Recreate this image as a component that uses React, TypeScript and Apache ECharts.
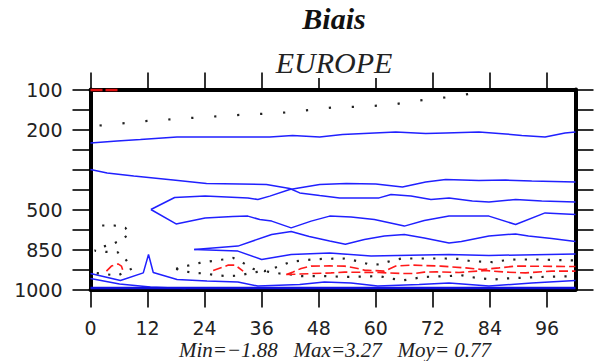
import React, { useEffect, useRef } from 'react';
import * as echarts from 'echarts';

// Pressure levels (y axis, evenly spaced by index, top = 100 hPa)
const LEVELS = [100, 150, 200, 250, 300, 400, 500, 700, 850, 925, 1000];
const LABELED_LEVEL_INDEX = [0, 2, 6, 8, 10];
// Forecast hours (x axis)
const HOURS = [0, 12, 24, 36, 48, 60, 72, 84, 96];
const HOUR_MAX = 102;

const TITLE = 'Biais';
const SUBTITLE = 'EUROPE';
const STATS = 'Min=\u22121.88   Max=3.27   Moy= 0.77';

// Contour lines: [forecast hour, level index]
const blueUpper: [number, number][] = [
  [0, 2.67], [5.6, 2.58], [10.5, 2.5], [18.2, 2.37], [31.4, 2.37], [37.7, 2.37], [42.5, 2.3],
  [48.2, 2.37], [53.0, 2.25], [64.2, 2.12], [70.5, 2.2], [74.7, 2.17], [81.7, 2.13], [87.3, 2.22],
  [90.7, 2.3], [95.6, 2.37], [99.8, 2.17], [102, 2.12],
];
const blueMid: [number, number][] = [
  [0, 4.0], [3.5, 4.17], [9.1, 4.33], [17.4, 4.53], [24.4, 4.7], [31.4, 4.72], [37.0, 4.75],
  [41.9, 4.95], [44.0, 5.17], [48.2, 5.3], [52.4, 5.42], [57.6, 5.42], [60.7, 5.42], [63.2, 5.25],
  [67.4, 5.33], [71.6, 5.5], [75.4, 5.42], [80.3, 5.58], [83.8, 5.62], [89.4, 5.5], [94.9, 5.58],
  [102, 5.62],
];
const blueLoopUpper: [number, number][] = [
  [12.7, 6.0], [17.7, 5.4], [24.1, 5.33], [33.1, 5.42], [35.2, 5.5], [37.7, 5.33], [41.9, 5.0],
  [48.2, 4.75], [53.8, 4.7], [60.0, 4.72], [65.6, 4.87], [70.5, 4.63], [74.7, 4.5], [81.7, 4.55],
  [87.3, 4.53], [92.8, 4.58], [102, 4.63],
];
const blueLoopLower: [number, number][] = [
  [12.7, 6.0], [18.0, 6.72], [24.1, 6.42], [29.9, 6.35], [33.1, 6.33], [35.6, 6.5], [38.1, 6.58],
  [42.2, 6.92], [46.4, 6.58], [50.3, 6.33], [54.8, 6.38], [59.7, 6.5], [66.0, 6.83], [70.2, 6.55],
  [75.4, 6.33], [83.8, 6.33], [89.4, 6.75], [95.6, 6.17], [102, 6.25],
];
const blueLowUpper: [number, number][] = [
  [21.8, 8.0], [31.0, 7.83], [38.1, 7.25], [42.2, 7.1], [46.0, 7.35], [50.3, 7.58], [53.6, 7.74],
  [57.6, 7.5], [61.8, 7.33], [66.0, 7.25], [70.2, 7.42], [75.4, 7.67], [78.0, 7.6], [83.8, 7.33],
  [89.4, 7.22], [92.1, 7.33], [97.0, 7.45], [102, 7.6],
];
const blueLowLower: [number, number][] = [
  [21.8, 8.0], [31.0, 8.08], [36.0, 8.5], [42.2, 8.25], [50.3, 8.17], [59.0, 8.33], [75.4, 8.25],
  [83.8, 8.3], [102, 8.22],
];
const blueSpike: [number, number][] = [
  [0, 9.2], [6.3, 9.55], [11.1, 9.17], [12.2, 8.25], [13.2, 9.15], [18.2, 9.5], [24.5, 9.58],
  [31.0, 9.62], [35.2, 9.83], [44.0, 9.75], [49.2, 9.62], [54.8, 9.67], [60.4, 9.83], [69.1, 9.75],
  [75.4, 9.67], [83.8, 9.83], [92.8, 9.67], [102, 9.55],
];
const blueBottomLeft: [number, number][] = [[0, 9.45], [6.1, 9.72], [12.6, 9.88], [20, 9.95]];
const blueBottom: [number, number][] = [[0, 9.92], [102, 9.92]];

const dotTop: [number, number][] = [
  [1.9, 1.8], [11.5, 1.58], [21.3, 1.42], [30.7, 1.28], [40.1, 1.17], [47.1, 1.0], [51.9, 0.87],
  [56.5, 0.87], [63.9, 0.75], [66.3, 0.63], [70.8, 0.5], [75.7, 0.37], [80.2, 0.2], [83.1, 0.05],
];
const dotLeft: [number, number][] = [
  [2.45, 6.8], [5.03, 6.8], [7.33, 6.92], [8.23, 7.2], [6.49, 7.53], [4.34, 7.75], [2.09, 7.89],
  [0.9, 8.06], [3.29, 8.12], [5.72, 8.14], [7.33, 8.47], [8.73, 8.95], [5.72, 9.3], [3.29, 9.24],
  [1.05, 9.17],
];
const dotLowUpper: [number, number][] = [
  [18.0, 8.97], [20.6, 8.8], [23.0, 8.67], [25.5, 8.58], [27.8, 8.5], [30.0, 8.42], [32.1, 8.67],
  [34.2, 8.97], [36.6, 9.08], [39.8, 8.83], [42.1, 8.62], [44.3, 8.55], [46.6, 8.5], [48.9, 8.47],
  [53.8, 8.45], [56.1, 8.58], [58.3, 8.72], [60.7, 8.75], [63.0, 8.58], [65.4, 8.45], [74.7, 8.45],
  [77.5, 8.47], [79.9, 8.58], [84.5, 8.63], [86.9, 8.55], [89.4, 8.5], [94.2, 8.5], [102, 8.55],
];
const dotLowLower: [number, number][] = [
  [18.0, 8.97], [19.5, 9.08], [21.8, 9.17], [24.2, 9.2], [26.7, 9.3], [29.0, 9.33], [31.3, 9.3],
  [34.1, 9.15], [36.6, 9.08], [39.8, 9.2], [42.1, 9.25], [44.3, 9.33], [49.2, 9.33], [53.8, 9.37],
  [60.7, 9.33], [63.2, 9.45], [65.6, 9.55], [68.1, 9.45], [70.2, 9.37], [75.4, 9.33], [77.8, 9.28],
  [80.1, 9.38], [82.4, 9.45], [84.8, 9.5], [87.3, 9.45], [94.2, 9.38], [102, 9.33],
];

const redTop: [number, number][] = [[0, 0.03], [6.3, 0.03]];
const redLeft: [number, number][] = [[3.35, 9.08], [4.4, 8.83], [5.8, 8.72], [6.5, 8.83], [6.85, 9.08]];
const redMid: [number, number][] = [[25.8, 9.05], [29.0, 8.78], [30.4, 8.78], [32.1, 9.08]];
const redRightUpper: [number, number][] = [
  [41.2, 9.25], [42.6, 9.12], [44.3, 8.95], [46.4, 8.83], [50.3, 8.82], [53.4, 8.83], [56.2, 8.95],
  [57.6, 9.03], [61.8, 9.08], [64.2, 8.83], [67.7, 8.78], [73.7, 8.83], [78.9, 8.92], [82.4, 9.0],
  [85.9, 8.92], [89.4, 8.83], [102, 8.85],
];
const redRightLower: [number, number][] = [
  [41.2, 9.25], [50.6, 9.17], [53.4, 9.13], [60.7, 9.15], [65.3, 9.2], [68.1, 9.2], [70.2, 9.13],
  [72.9, 9.12], [77.5, 9.15], [83.1, 9.05], [87.3, 9.13], [91.5, 9.17], [97.0, 9.08], [102, 9.08],
];

const BLUE_LINES = [blueUpper, blueMid, blueLoopUpper, blueLoopLower, blueLowUpper, blueLowLower, blueSpike, blueBottomLeft];
const DOT_LINES = [dotLeft, dotLowUpper, dotLowLower];
const RED_LINES = [redLeft, redMid, redRightUpper, redRightLower];

export default function App() {
  const ref = useRef<HTMLDivElement>(null);
  useEffect(() => {
    if (!ref.current) return;
    const chart = echarts.init(ref.current, null, { renderer: 'svg' });
    const line = (data: [number, number][], lineStyle: any) => ({
      type: 'line',
      data,
      symbol: 'none',
      silent: true,
      clip: true,
      lineStyle,
    });
    const series: any[] = [
      ...BLUE_LINES.map((d) => line(d, { color: '#2020ff', width: 1.5 })),
      line(blueBottom, { color: '#1010e0', width: 2.5 }),
      line(dotTop, { color: '#222', width: 2.2, type: [2.2, 20.8] }),
      ...DOT_LINES.map((d) => line(d, { color: '#222', width: 2.2, type: [2.2, 9.3] })),
      line(redTop, { color: '#e01010', width: 2.5, type: [12, 3] }),
      ...RED_LINES.map((d) => line(d, { color: '#ff1a1a', width: 1.6, type: [9, 4] })),
    ];
    const labelFont = { fontFamily: '"DejaVu Sans", sans-serif', fontSize: 19, color: '#222', lineHeight: 15 };
    const xCommon = {
      type: 'value',
      min: 0,
      max: HOUR_MAX,
      interval: 12,
      splitLine: { show: false },
      axisLine: { show: true, onZero: false, lineStyle: { color: '#000', width: 4 } },
    };
    const yCommon = {
      type: 'value',
      min: 0,
      max: LEVELS.length - 1,
      interval: 1,
      inverse: true,
      splitLine: { show: false },
      axisLine: { show: true, onZero: false, lineStyle: { color: '#000', width: 4 } },
      axisTick: { show: true, inside: false, length: 18, lineStyle: { color: '#000', width: 1.6 } },
    };
    chart.setOption({
      animation: false,
      backgroundColor: '#fff',
      grid: { left: 90.5, top: 89.5, width: 485, height: 200, show: false },
      xAxis: [
        {
          ...xCommon,
          position: 'bottom',
          axisTick: { show: true, inside: false, length: 18, customValues: HOURS, lineStyle: { color: '#000', width: 1.6 } },
          axisLabel: {
            ...labelFont,
            margin: 31,
            customValues: HOURS,
            formatter: (v: number) => (v % 12 === 0 && v <= 96 ? String(v) : ''),
          },
        },
        {
          ...xCommon,
          position: 'top',
          axisTick: { show: true, inside: false, length: 17, customValues: HOURS, lineStyle: { color: '#000', width: 1.6 } },
          axisLabel: { show: false },
        },
      ],
      yAxis: [
        {
          ...yCommon,
          position: 'left',
          axisLabel: {
            ...labelFont,
            margin: 28,
            customValues: LABELED_LEVEL_INDEX,
            formatter: (v: number) => (LABELED_LEVEL_INDEX.includes(v) ? String(LEVELS[v]) : ''),
          },
        },
        { ...yCommon, position: 'right', axisLabel: { show: false } },
      ],
      graphic: [
        { type: 'rect', z: 100, shape: { x: 270, y: 46, width: 130, height: 32 }, style: { fill: '#fff' } },
        {
          type: 'text', z: 101,
          style: { text: TITLE, x: 334, y: 18.5, font: 'italic bold 30px "Liberation Serif", serif', fill: '#111', align: 'center', verticalAlign: 'middle', textAlign: 'center', textVerticalAlign: 'middle' },
        },
        {
          type: 'text', z: 101,
          style: { text: SUBTITLE, x: 334, y: 62, font: 'italic 30px "Liberation Serif", serif', fill: '#222', align: 'center', verticalAlign: 'middle', textAlign: 'center', textVerticalAlign: 'middle' },
        },
        {
          type: 'text', z: 101,
          style: { text: STATS, x: 335, y: 349.5, lineHeight: 15, font: 'italic 21px "Liberation Serif", serif', fill: '#222', align: 'center', verticalAlign: 'middle', textAlign: 'center', textVerticalAlign: 'middle' },
        },
      ],
      series,
    });
    return () => chart.dispose();
  }, []);
  return (
    <div
      ref={ref}
      style={{ position: 'fixed', left: 0, top: 0, width: 594, height: 361, background: '#fff' }}
    />
  );
}
